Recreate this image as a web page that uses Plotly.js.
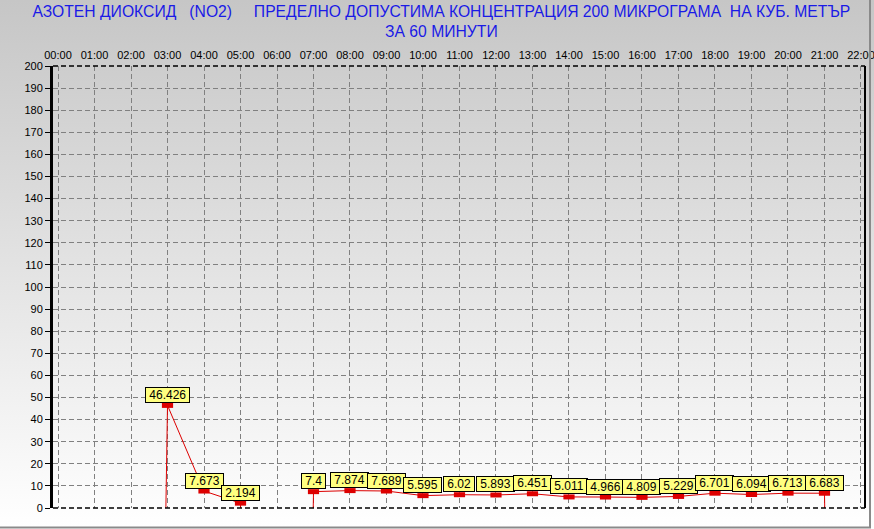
<!DOCTYPE html>
<html>
<head>
<meta charset="utf-8">
<script src="https://cdn.plot.ly/plotly-3.0.1.min.js"></script>
<style>
  html, body { margin: 0; padding: 0; }
  #chart { width: 874px; height: 529px; background: linear-gradient(to bottom, #c6c6c6 0%, #ffffff 100%); }
</style>
</head>
<body>
<div id="chart"></div>
<script>
// Hours shown on the top axis
const hours = ['00:00','01:00','02:00','03:00','04:00','05:00','06:00','07:00','08:00','09:00','10:00','11:00',
               '12:00','13:00','14:00','15:00','16:00','17:00','18:00','19:00','20:00','21:00','22:00'];
// NO2 concentration per hour (null = no measurement)
const no2 = [null, null, null, 46.426, 7.673, 2.194, null, 7.4, 7.874, 7.689, 5.595, 6.02,
             5.893, 6.451, 5.011, 4.966, 4.809, 5.229, 6.701, 6.094, 6.713, 6.683, null];
// The original plots missing hours as a large negative value, so the line plunges off the chart
const MISSING = -999;

const yTicks = [];
for (let v = 0; v <= 200; v += 10) yTicks.push(v);

const lineY = no2.map(v => v === null ? MISSING : v);
const ptX = [], ptY = [];
no2.forEach((v, i) => { if (v !== null) { ptX.push(hours[i]); ptY.push(v); } });

const traces = [
  { type: 'scatter', mode: 'lines', x: hours, y: lineY,
    line: { color: '#dd0000', width: 1 }, hoverinfo: 'skip', showlegend: false },
  { type: 'scatter', mode: 'markers', x: ptX, y: ptY,
    marker: { symbol: 'line-ew', size: 8, color: '#dd0000', line: { width: 5, color: '#dd0000' } },
    showlegend: false }
];

const annotations = [];
no2.forEach((v, i) => {
  if (v === null) return;
  annotations.push({
    x: i, y: v, xref: 'x', yref: 'y', showarrow: false,
    text: '\u00a0' + String(v) + '\u00a0',
    yanchor: 'bottom', xanchor: 'center', yshift: 2.5,
    bgcolor: '#ffff80', bordercolor: '#000000', borderwidth: 1, borderpad: 0,
    font: { family: 'Liberation Sans, Arial, sans-serif', size: 12, color: '#000000' }
  });
});

const S = '\u00a0';
const titleText = 'АЗОТЕН ДИОКСИД' + S + S + ' (NO2)' + S + S + S + S + ' ПРЕДЕЛНО ДОПУСТИМА КОНЦЕНТРАЦИЯ 200 МИКРОГРАМА' + S +
                  ' НА КУБ. МЕТЪР<br>ЗА 60 МИНУТИ';

const layout = {
  width: 874, height: 529,
  margin: { l: 53, r: 9, t: 66, b: 21, pad: 0 },
  paper_bgcolor: 'rgba(0,0,0,0)', plot_bgcolor: 'rgba(0,0,0,0)',
  showlegend: false,
  title: { text: titleText, x: 0.505, xanchor: 'center', xref: 'container',
           y: 0.968, yanchor: 'top', yref: 'container',
           font: { family: 'Liberation Sans, Arial, sans-serif', size: 15.7, color: '#1a1ae6' } },
  xaxis: {
    type: 'category', side: 'top', range: [-0.137, 22.11], autorange: false,
    tickvals: hours, ticktext: hours, ticks: '', ticklabelstandoff: 4,
    showgrid: true, gridcolor: '#808080', gridwidth: 1, griddash: '5px,3px',
    showline: false, zeroline: false, fixedrange: true,
    tickfont: { family: 'Liberation Sans, Arial, sans-serif', size: 11, color: '#000000' }
  },
  yaxis: {
    range: [0, 200], autorange: false, tickvals: yTicks,
    ticks: 'outside', ticklen: 5, tickcolor: '#000000', tickwidth: 1,
    showline: true, linecolor: '#000000', linewidth: 3,
    showgrid: true, gridcolor: '#808080', gridwidth: 1, griddash: '5px,3px',
    zeroline: false, fixedrange: true,
    tickfont: { family: 'Liberation Sans, Arial, sans-serif', size: 11, color: '#000000' }
  },
  annotations: annotations,
  shapes: [
    { type: 'line', xref: 'paper', yref: 'paper', x0: 0, x1: 1, y0: 1, y1: 1,
      line: { color: '#000000', width: 1.5, dash: '5px,3px' } },
    { type: 'line', xref: 'paper', yref: 'paper', x0: 0, x1: 1, y0: 0, y1: 0,
      line: { color: '#000000', width: 1.5, dash: '5px,3px' } },
    { type: 'line', xref: 'paper', yref: 'paper', x0: 1, x1: 1, y0: 0, y1: 1,
      line: { color: '#000000', width: 2 } },
    { type: 'line', xref: 'paper', yref: 'paper', x0: (870 - 53) / 812, x1: (870 - 53) / 812, y0: -20 / 442, y1: 66 / 442 + 1,
      line: { color: '#8a8a8a', width: 2 } },
    { type: 'line', xref: 'paper', yref: 'paper', x0: -53 / 812, x1: (871 - 53) / 812, y0: -19.5 / 442, y1: -19.5 / 442,
      line: { color: '#8a8a8a', width: 2 } }
  ]
};

Plotly.newPlot('chart', traces, layout, { displayModeBar: false, staticPlot: true });
</script>
</body>
</html>
